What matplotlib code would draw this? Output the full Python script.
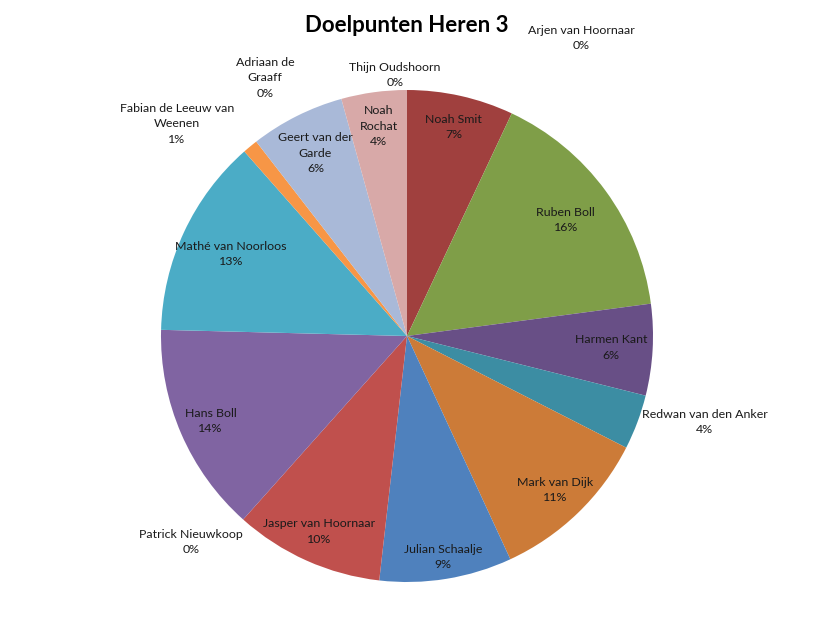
#Libraries
import numpy as np
import matplotlib.pyplot as plt

#Set font
plt.rcParams['font.family'] = ['Lato', 'DejaVu Sans']

#Data (clockwise from 12 o'clock)
players = ['Arjen van Hoornaar', 'Noah Smit', 'Ruben Boll', 'Harmen Kant',
           'Redwan van den Anker', 'Mark van Dijk', 'Julian Schaalje',
           'Jasper van Hoornaar', 'Patrick Nieuwkoop', 'Hans Boll',
           'Mathé van Noorloos', 'Fabian de Leeuw van Weenen',
           'Adriaan de Graaff', 'Geert van der Garde', 'Noah Rochat',
           'Thijn Oudshoorn']
share = [0.0, 7.0, 15.9, 6.0, 3.6, 10.6, 8.7, 9.8, 0.0, 13.8, 13.1, 1.0,
         0.0, 6.2, 4.3, 0.0]

#Label text as wrapped in the chart
label_text = ['Arjen van Hoornaar', 'Noah Smit', 'Ruben Boll', 'Harmen Kant',
              'Redwan van den Anker', 'Mark van Dijk', 'Julian Schaalje',
              'Jasper van Hoornaar', 'Patrick Nieuwkoop', 'Hans Boll',
              'Mathé van Noorloos', 'Fabian de Leeuw van\nWeenen',
              'Adriaan de\nGraaff', 'Geert van der\nGarde', 'Noah\nRochat',
              'Thijn Oudshoorn']

colors = ['#3C6396', '#A0403E', '#7F9E48', '#684F86', '#3C8DA3', '#CC7B38',
          '#4F81BD', '#C0504D', '#9BBB59', '#8064A2', '#4BACC6', '#F79646',
          '#7C9ACF', '#A9B9D8', '#D8A9A8', '#C3D69B']

#Inside label distance from centre (fraction of radius)
label_r = [0, 0.87, 0.80, 0.83, 0, 0.87, 0.91, 0.87, 0, 0.87, 0.79, 0,
           0, 0.83, 0.86, 0]

#Outside label spots (pie units), the rest sit inside the slice
outside = {0: (0.707, 1.211), 4: (1.211, -0.350), 8: (-0.878, -0.837),
           11: (-0.935, 0.862), 12: (-0.577, 1.049), 15: (-0.049, 1.061)}

#Plot
fig = plt.figure(figsize=(8.14, 6.35), dpi=100)
ax = fig.add_axes([0, 0, 1, 1])
wedges, _ = ax.pie(share, colors=colors, startangle=90, counterclock=False,
                   radius=1.0, wedgeprops=dict(linewidth=0))

total = sum(share)
for i, w in enumerate(wedges):
    pct = '%d%%' % round(share[i] / total * 100)
    txt = label_text[i] + '\n' + pct
    if i in outside:
        x, y = outside[i]
    else:
        mid = np.deg2rad((w.theta1 + w.theta2) / 2)
        x, y = label_r[i] * np.cos(mid), label_r[i] * np.sin(mid)
    ax.text(x, y, txt, ha='center', va='center', fontsize=8.9,
            color='#1a1a1a', linespacing=1.5)

ax.set_xlim(-407 / 246, 407 / 246)
ax.set_ylim(-299 / 246, 336 / 246)
ax.set_aspect('equal')
ax.axis('off')

fig.text(0.5, 1 - 26 / 635, 'Doelpunten Heren 3', ha='center', va='center',
         fontsize=16, fontweight='bold')

fig.savefig('out.png', dpi=100)
